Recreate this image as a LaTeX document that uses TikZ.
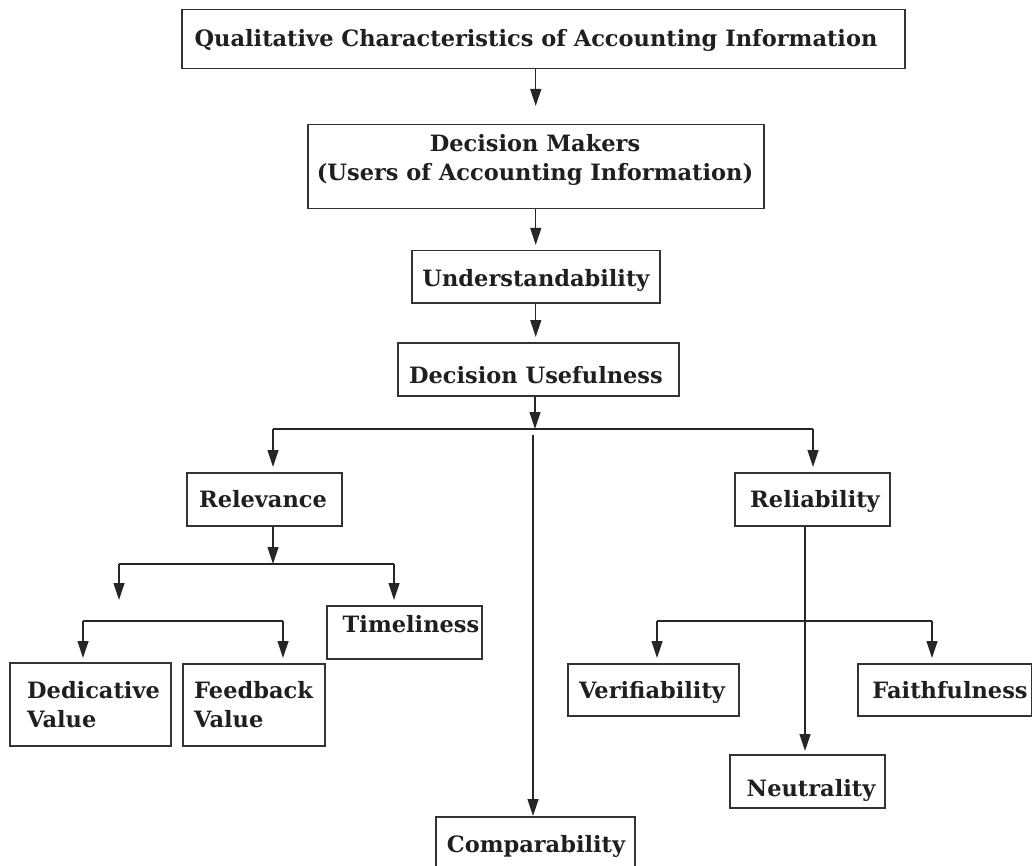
\documentclass[tikz,border=0pt]{standalone}
\usepackage{fontspec}
\setmainfont{DejaVu Serif}
\usetikzlibrary{arrows.meta}
\begin{document}
\begin{tikzpicture}[x=1pt,y=-1pt,
  box/.style={draw=black!80, line width=1.5pt, inner sep=0pt, anchor=north west},
  lbl/.style={font=\fontsize{22.5}{29}\selectfont\bfseries, text=black!88, inner sep=0pt, anchor=base},
  lbll/.style={lbl, anchor=base west},
  con/.style={draw=black!85, line width=1.2pt},
  arr/.style={con, -{Triangle[length=17pt,width=11pt]}}]
\useasboundingbox (0,0) rectangle (1032,866);
% boxes
\node[box, minimum width=723pt, minimum height=59pt] (top) at (181,9) {};
\node[box, minimum width=456pt, minimum height=84pt] (dm) at (307,124) {};
\node[box, minimum width=248pt, minimum height=52pt] (und) at (411,250) {};
\node[box, minimum width=281pt, minimum height=53pt] (du) at (397,342) {};
\node[box, minimum width=155pt, minimum height=53pt] (rel) at (186,472) {};
\node[box, minimum width=155pt, minimum height=53pt] (tim) at (326,605) {};
\node[box, minimum width=161pt, minimum height=83pt] (ded) at (9,662) {};
\node[box, minimum width=142pt, minimum height=82pt] (fb) at (182,663) {};
\node[box, minimum width=199pt, minimum height=70pt] (comp) at (435,816) {};
\node[box, minimum width=155pt, minimum height=53pt] (relb) at (734,472) {};
\node[box, minimum width=171pt, minimum height=52pt] (ver) at (567,663) {};
\node[box, minimum width=174pt, minimum height=52pt] (fai) at (857,663) {};
\node[box, minimum width=155pt, minimum height=53pt] (neu) at (729,754) {};
% texts
\node[lbl] (ttop) at (536,47) {Qualitative Characteristics of Accounting Information};
\node[lbl] (tdm1) at (535,152) {Decision Makers};
\node[lbl] (tdm2) at (535,181) {(Users of Accounting Information)};
\node[lbl] (tund) at (536,287) {Understandability};
\node[lbl] (tdu) at (536,383) {Decision Usefulness};
\node[lbl] (trel) at (263,507) {Relevance};
\node[lbl] (ttim) at (411,632) {Timeliness};
\node[lbll] (tded1) at (27,698) {Dedicative};
\node[lbll] (tded2) at (27,727) {Value};
\node[lbll] (tfb1) at (194,698) {Feedback};
\node[lbll] (tfb2) at (194,727) {Value};
\node[lbl] (tcomp) at (536,852) {Comparability};
\node[lbl] (trelb) at (815,507) {Reliability};
\node[lbl] (tver) at (652,698) {Verifiability};
\node[lbl] (tfai) at (950,698) {Faithfulness};
\node[lbl] (tneu) at (811,796) {Neutrality};
% junction coordinates
\coordinate (j1) at (535,429);
\coordinate (jl) at (273,429);
\coordinate (jr) at (813,429);
\coordinate (c0) at (533,435);
\coordinate (j2) at (273,564);
\coordinate (j2l) at (119,564);
\coordinate (j2r) at (394,564);
\coordinate (a1) at (119,600);
\coordinate (j3l) at (83,621);
\coordinate (j3r) at (283,621);
\coordinate (r0) at (805,621);
\coordinate (j4l) at (657,621);
\coordinate (j4r) at (932,621);
% connectors
\draw[arr, shorten >=18pt] (dm.north |- top.south) -- (dm.north);
\draw[arr, shorten >=5pt] (dm.south) -- (und.north);
\draw[arr, shorten >=5pt] (und.south) -- (und.south |- du.north);
\draw[arr] (j1 |- du.south) -- (j1);
\draw[con] (jl) -- (jr);
\draw[arr, shorten >=5pt] (jl) -- (jl |- rel.north);
\draw[arr, shorten >=5pt] (jr) -- (jr |- relb.north);
\draw[arr] (c0) -- (c0 |- comp.north);
\draw[arr] (j2 |- rel.south) -- (j2);
\draw[con] (j2l) -- (j2r);
\draw[arr] (j2l) -- (a1);
\draw[arr, shorten >=5pt] (j2r) -- (j2r |- tim.north);
\draw[con] (j3l) -- (j3r);
\draw[arr, shorten >=4pt] (j3l) -- (j3l |- ded.north);
\draw[arr, shorten >=5pt] (j3r) -- (j3r |- fb.north);
\draw[arr, shorten >=3pt] (r0 |- relb.south) -- (r0 |- neu.north);
\draw[con] (j4l) -- (j4r);
\draw[arr, shorten >=5pt] (j4l) -- (j4l |- ver.north);
\draw[arr, shorten >=5pt] (j4r) -- (j4r |- fai.north);
\end{tikzpicture}
\end{document}
